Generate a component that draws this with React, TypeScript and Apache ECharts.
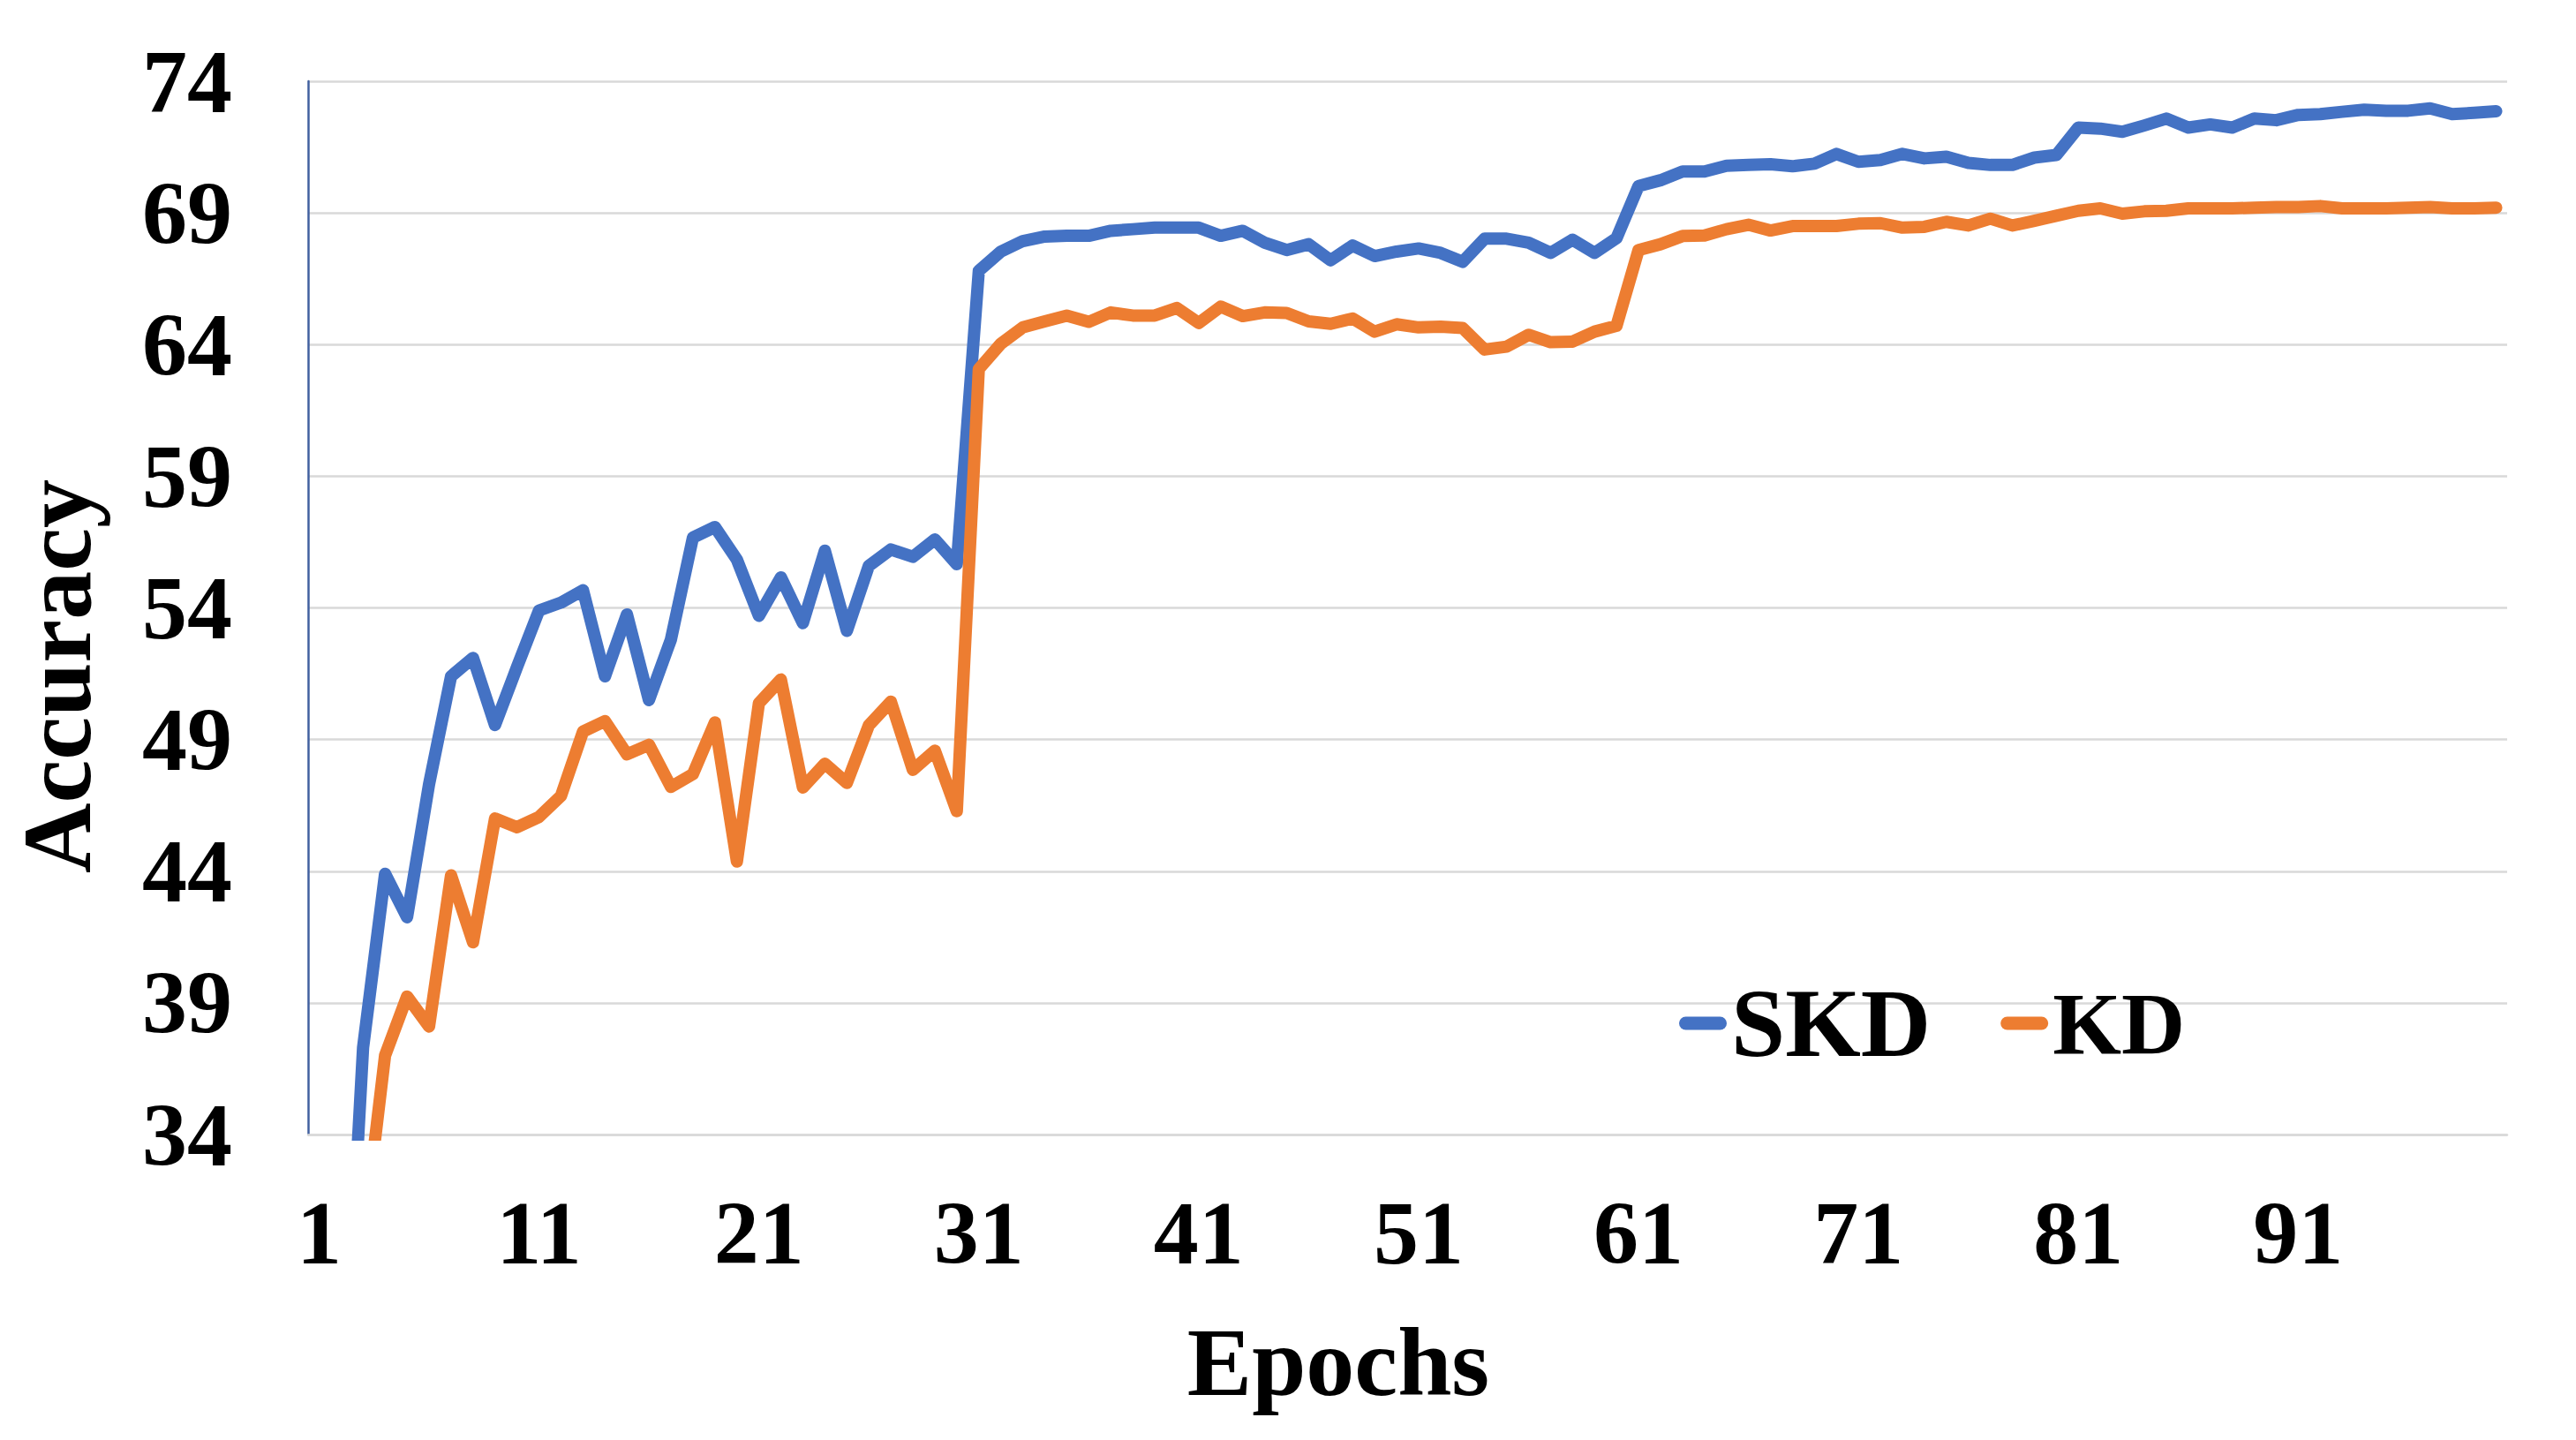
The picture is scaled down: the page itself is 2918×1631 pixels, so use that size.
import React, { useEffect, useRef } from "react";
import * as echarts from "echarts";

const epochs: string[] = Array.from({ length: 100 }, (_, i) => String(i + 1));

const skd: number[] = [
  12, 22, 37.3, 43.9, 42.25, 47.3, 51.4, 52.1, 49.55, 51.75,
  53.9, 54.2, 54.67, 51.4, 53.75, 50.5, 52.8, 56.67, 57.07, 55.83,
  53.7, 55.16, 53.42, 56.17, 53.13, 55.6, 56.22, 55.94, 56.6, 55.66,
  66.8, 67.53, 67.93, 68.1, 68.13, 68.13, 68.32, 68.38, 68.44, 68.44,
  68.44, 68.13, 68.32, 67.87, 67.59, 67.81, 67.2, 67.76, 67.36, 67.53,
  67.65, 67.48, 67.14, 68.02, 68.02, 67.87, 67.48, 67.98, 67.48, 68.04,
  70.02, 70.24, 70.57, 70.57, 70.79, 70.82, 70.85, 70.77, 70.87, 71.24,
  70.94, 71.01, 71.24, 71.07, 71.13, 70.9, 70.82, 70.82, 71.1, 71.2,
  72.24, 72.2, 72.08, 72.32, 72.58, 72.24, 72.36, 72.24, 72.58, 72.52,
  72.72, 72.75, 72.84, 72.92, 72.88, 72.88, 72.97, 72.75, 72.8, 72.86,
];

const kd: number[] = [
  15, 22, 30, 37.0, 39.24, 38.1, 43.84, 41.3, 46.0, 45.67,
  46.06, 46.86, 49.3, 49.7, 48.44, 48.8, 47.2, 47.69, 49.65, 44.37,
  50.38, 51.28, 47.18, 48.08, 47.35, 49.54, 50.44, 47.85, 48.58, 46.28,
  63.07, 64.03, 64.65, 64.88, 65.1, 64.86, 65.22, 65.1, 65.1, 65.39,
  64.82, 65.44, 65.08, 65.22, 65.2, 64.88, 64.79, 64.99, 64.49, 64.77,
  64.65, 64.68, 64.63, 63.81, 63.92, 64.37, 64.09, 64.11, 64.49, 64.71,
  67.59, 67.81, 68.12, 68.14, 68.38, 68.55, 68.33, 68.5, 68.5, 68.5,
  68.59, 68.61, 68.44, 68.47, 68.66, 68.52, 68.78, 68.52, 68.7, 68.89,
  69.08, 69.17, 68.97, 69.06, 69.08, 69.17, 69.17, 69.17, 69.2, 69.22,
  69.22, 69.26, 69.17, 69.17, 69.17, 69.2, 69.22, 69.17, 69.17, 69.2,
];

const seriesNames: string[] = ["SKD", "KD"];
const yMin = 34;
const yMax = 74;
const yStep = 5;

const FONT = "'Liberation Serif', 'Times New Roman', serif";

export default function App() {
  const ref = useRef<HTMLDivElement>(null);

  useEffect(() => {
    document.body.style.margin = "0";
    if (!ref.current) return;
    const chart = echarts.init(ref.current, undefined, { renderer: "svg" });
    const option: any = {
      animation: false,
      backgroundColor: "#ffffff",
      grid: { left: 349, top: 92, width: 2491, height: 1193, containLabel: false },
      xAxis: {
        type: "category",
        data: epochs,
        boundaryGap: true,
        axisLine: { show: true, lineStyle: { color: "#D9D9D9", width: 2.5 } },
        axisTick: { show: false },
        axisLabel: {
          interval: 9,
          margin: 60,
          color: "#000",
          fontFamily: FONT,
          fontWeight: "bold",
          fontSize: 102,
        },
        splitLine: { show: false },
      },
      yAxis: {
        type: "value",
        min: yMin,
        max: yMax,
        interval: yStep,
        axisLine: { show: true, lineStyle: { color: "#41609F", width: 2.5 } },
        axisTick: { show: false },
        axisLabel: {
          margin: 86,
          color: "#000",
          fontFamily: FONT,
          fontWeight: "bold",
          fontSize: 102,
        },
        splitLine: { show: true, lineStyle: { color: "#D9D9D9", width: 2.5 } },
      },
      legend: {
        left: 1897,
        top: 1099,
        itemGap: 79,
        itemWidth: 54,
        itemHeight: 15,
        icon: "path://M7.5,0 L46.5,0 A7.5,7.5 0 0 1 46.5,15 L7.5,15 A7.5,7.5 0 0 1 7.5,0 Z",
        itemStyle: { borderWidth: 0 },
        textStyle: { fontFamily: FONT, fontWeight: "bold", fontSize: 110, color: "#000" },
        data: [{ name: seriesNames[0] }, { name: seriesNames[1], textStyle: { fontSize: 100 } }],
      },
      graphic: [
        {
          type: "text",
          x: 65,
          y: 766,
          rotation: Math.PI / 2,
          style: {
            text: "Accuracy",
            fontFamily: FONT,
            fontWeight: "bold",
            fontSize: 110,
            fill: "#000",
            textAlign: "center",
            textVerticalAlign: "middle",
          },
        },
        {
          type: "text",
          x: 1516,
          y: 1543,
          style: {
            text: "Epochs",
            fontFamily: FONT,
            fontWeight: "bold",
            fontSize: 110,
            fill: "#000",
            textAlign: "center",
            textVerticalAlign: "middle",
          },
        },
      ],
      series: [
        {
          name: seriesNames[0],
          type: "line",
          data: skd,
          symbol: "none",
          color: "#4472C4",
          clip: true,
          lineStyle: { width: 14, color: "#4472C4", cap: "round", join: "round" },
        },
        {
          name: seriesNames[1],
          type: "line",
          data: kd,
          symbol: "none",
          color: "#ED7D31",
          clip: true,
          lineStyle: { width: 14, color: "#ED7D31", cap: "round", join: "round" },
        },
      ],
    };
    chart.setOption(option);
    return () => chart.dispose();
  }, []);

  return (
    <div
      ref={ref}
      style={{ position: "fixed", left: 0, top: 0, width: 2918, height: 1631, background: "#fff" }}
    />
  );
}
